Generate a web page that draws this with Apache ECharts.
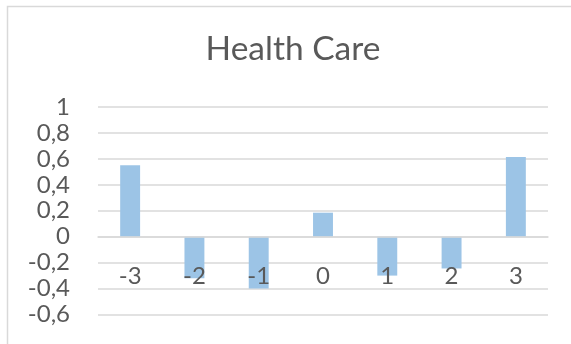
<!DOCTYPE html>
<html>
<head>
<meta charset="utf-8">
<script src="https://cdn.jsdelivr.net/npm/echarts@6/dist/echarts.min.js"></script>
<style>
  html, body { margin: 0; padding: 0; background: #fff; }
  #chart { width: 571px; height: 344px; }
</style>
</head>
<body>
<div id="chart"></div>
<script>
// Chart content
const chartTitle = 'Health Care';
const categories = ['-3', '-2', '-1', '0', '1', '2', '3'];
const values = [0.55, -0.32, -0.40, 0.185, -0.30, -0.245, 0.615];
const yMin = -0.6;
const yMax = 1;
const yStep = 0.2;

const textColor = '#595959';
const lineColor = '#d9d9d9';
const barColor = '#9cc4e6';
const fontFamily = 'Lato, "Open Sans", sans-serif';

// Decimal comma, as in the axis labels
function fmt(v) {
  const r = Math.round(v * 10) / 10;
  return String(r).replace('.', ',');
}

const chart = echarts.init(document.getElementById('chart'), null, { renderer: 'canvas' });
chart.setOption({
  animation: false,
  backgroundColor: '#fff',
  title: {
    text: chartTitle,
    left: 293,
    top: 32,
    textAlign: 'center',
    padding: 0,
    textStyle: { color: textColor, fontFamily: fontFamily, fontWeight: 'normal', fontSize: 33.5 }
  },
  graphic: [{
    type: 'rect',
    shape: { x: 7.5, y: 6.5, width: 700, height: 500 },
    style: { fill: 'none', stroke: lineColor, lineWidth: 1.5 },
    silent: true,
    z: 100
  }],
  grid: { left: 98, right: 23, top: 107, bottom: 29.5, containLabel: false, outerBoundsMode: 'none' },
  xAxis: {
    type: 'category',
    data: categories,
    z: 10,
    offset: 0,
    axisLine: { onZero: false, lineStyle: { color: lineColor, width: 1.5 } },
    axisTick: { show: false },
    axisLabel: { color: textColor, fontFamily: fontFamily, fontSize: 24, margin: 28 },
    splitLine: { show: false }
  },
  yAxis: {
    type: 'value',
    min: yMin,
    max: yMax,
    interval: yStep,
    axisLine: { show: false },
    axisTick: { show: false },
    axisLabel: { color: textColor, fontFamily: fontFamily, fontSize: 24, margin: 28, formatter: fmt },
    splitLine: { lineStyle: { color: lineColor, width: 1.5 } }
  },
  series: [{
    type: 'bar',
    data: values,
    barWidth: '31%',
    itemStyle: { color: barColor }
  }]
});

// Move the category axis (line and labels) up to the zero line of the value axis
const zeroY = chart.convertToPixel({ yAxisIndex: 0 }, 0);
const bottomY = chart.convertToPixel({ yAxisIndex: 0 }, yMin);
chart.setOption({ xAxis: { offset: zeroY - bottomY } });
</script>
</body>
</html>
